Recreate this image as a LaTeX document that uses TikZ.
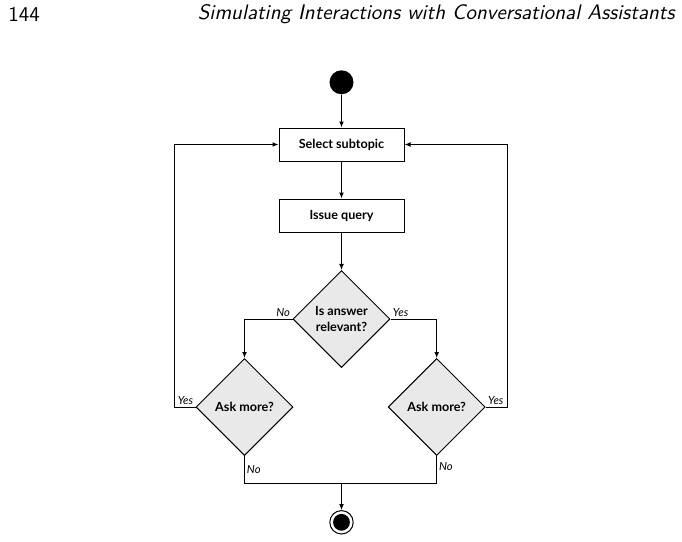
\documentclass[tikz,border=0pt]{standalone}
\usepackage{fontspec}
\newfontfamily\flowfont{Lato}
\usetikzlibrary{shapes.geometric,arrows.meta}

\begin{document}
\begin{tikzpicture}[
    x=0.5pt, y=-0.5pt,
    stepbox/.style={draw, line width=0.5pt, fill=white, minimum width=62.5pt, minimum height=16.5pt, inner sep=0pt, font=\flowfont\bfseries\fontsize{6.3}{7.6}\selectfont},
    decision/.style={draw, diamond, line width=0.5pt, fill=gray!17, minimum width=48.5pt, minimum height=48.5pt, inner sep=0pt, align=center, font=\flowfont\bfseries\fontsize{6.3}{8.2}\selectfont},
    initial/.style={circle, fill=black, minimum size=12pt, inner sep=0pt},
    final/.style={circle, draw, line width=0.5pt, minimum size=11.7pt, inner sep=0pt, path picture={\fill (path picture bounding box.center) circle (4.2pt);}},
    lbl/.style={font=\flowfont\itshape\fontsize{5.6}{6.7}\selectfont, inner sep=1pt},
    arr/.style={-{Latex[length=3pt,width=2.4pt]}, line width=0.5pt},
    line/.style={line width=0.5pt}
]
    \useasboundingbox (0,0) rectangle (682,542);

    % Running head
    \node[font=\sffamily\fontsize{10.5}{12.6}\selectfont, anchor=west, inner sep=0pt] (pagenum) at (8,14) {144};
    \node[font=\sffamily\slshape\fontsize{10.5}{12.6}\selectfont, anchor=east, inner sep=0pt] (runhead) at (675,14) {Simulating Interactions with Conversational Assistants};

    % Activities
    \node[initial] (start) at (341.5,82.3) {};
    \node[stepbox] (select) at (341.5,144.5) {Select subtopic};
    \node[stepbox] (issue) at (341.5,215.5) {Issue query};

    % Decisions
    \node[decision] (relevant) at (341.5,319) {Is answer\\relevant?};
    \node[decision] (askleft) at (244.5,407) {Ask more?};
    \node[decision] (askright) at (436.7,407) {Ask more?};

    % End
    \node[final] (stop) at (341.5,522.3) {};

    % Helper points
    \coordinate (loopL) at (174,144.5);
    \coordinate (loopR) at (507.7,144.5);
    \coordinate (merge) at (341.5,483.3);

    % Main flow
    \draw[arr] (start) -- (select);
    \draw[arr] (select) -- (issue);
    \draw[arr] (issue) -- (relevant);
    \draw[arr] (relevant.west) node[lbl, above left] {No} -| (askleft.north);
    \draw[arr] (relevant.east) node[lbl, above right] {Yes} -| (askright.north);

    % Loops back
    \draw[arr] (askleft.west) node[lbl, above left] {Yes} -| (loopL) -- (select.west);
    \draw[arr] (askright.east) node[lbl, above right] {Yes} -| (loopR) -- (select.east);

    % Exit
    \draw[line] (askleft.south) |- node[lbl, pos=0.25, anchor=west] {No} (merge);
    \draw[line] (askright.south) |- node[lbl, pos=0.2, anchor=west] {No} (merge);
    \draw[arr] (merge) -- (stop);
\end{tikzpicture}
\end{document}
